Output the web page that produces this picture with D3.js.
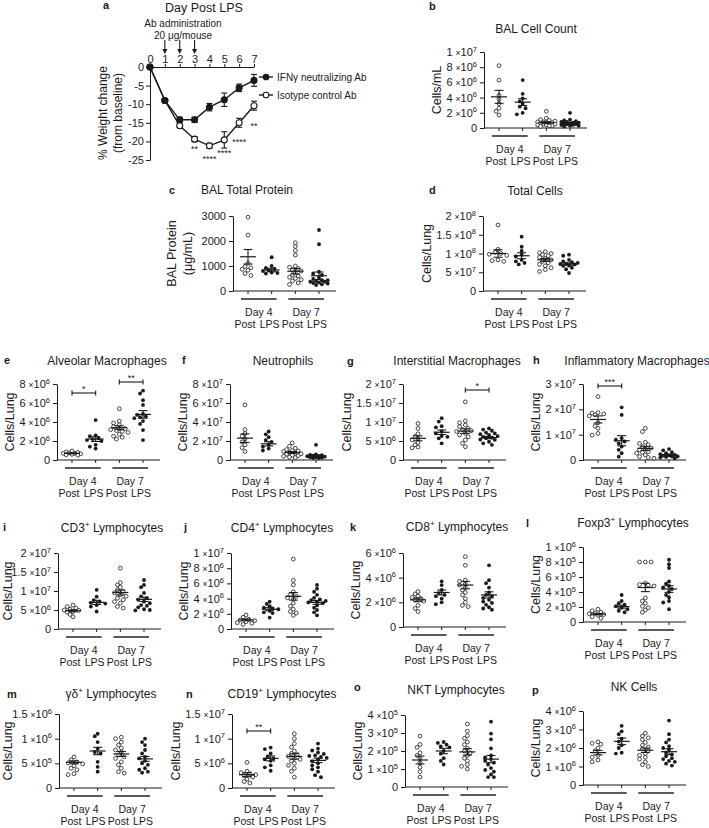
<!DOCTYPE html>
<html><head><meta charset="utf-8">
<script src="https://cdn.jsdelivr.net/npm/d3@7"></script>
<style>
body{margin:0;background:#fff}
svg{display:block}
text{font-family:"Liberation Sans",Arial,sans-serif;fill:#1a1a1a}
</style>
</head><body>
<svg id="c" width="709" height="828"></svg>
<script>
// ---------------- DATA ----------------
// Panel a: weight change
const days = [0,1,2,3,4,5,6,7];
const ifngMean = [0,-9,-14.2,-14.2,-10.8,-8.8,-5.6,-3.6];
const ifngSem  = [0,0.4,0.7,0.7,1.0,1.8,1.0,1.6];
const isoMean  = [0,-9,-15.8,-19.4,-21.2,-19.6,-15.0,-10.4];
const isoSem   = [0,0.4,0.5,0.7,0.7,2.2,1.2,1.2];
const abDays = [1,2,3];
const weightTicks = [0,-5,-10,-15,-20,-25];
const starDays = [3,4,5,6,7];
const starText = ["**","****","****","****","**"];
const legendNames = ["IFN\u03b3 neutralizing Ab","Isotype control Ab"];

// scatter panels: groups [Day4 Post, Day4 LPS, Day7 Post, Day7 LPS]
const groupNames = ["Day 4","Day 7"];
const colNames = ["Post","LPS","Post","LPS"];

const bUnit=1e6, bTicks=[0,2e6,4e6,6e6,8e6,1e7];
const bPts=[[8.2,6.3,4.3,3.8,3.2,2.6,2.2,1.7],[6.3,4.5,3.9,3.5,3.2,2.8,2.6,2.0,1.8],
 [2.2,1.3,1.1,1.0,0.9,0.8,0.8,0.7,0.7,0.6,0.6,0.5,0.5,0.4,0.4,0.3,0.3,0.2],
 [2.0,1.1,1.0,0.9,0.8,0.8,0.7,0.7,0.6,0.6,0.5,0.5,0.4,0.4,0.3,0.3,0.2]];
const bMean=[4.1,3.4,0.7,0.6], bSem=[0.85,0.45,0.13,0.1];

const cUnit=1, cTicks=[0,1000,2000,3000];
const cPts=[[2950,2240,1110,980,930,870,830,700,620],[1350,1000,920,880,830,800,740,720,700],
 [1930,1780,1620,1440,1000,950,900,850,800,750,650,600,550,500,450,400,320,260],
 [2440,1870,770,700,640,530,480,430,430,400,370,370,340,320,300,270,240]];
const cMean=[1370,840,790,610], cSem=[290,70,110,150];

const dUnit=1e7, dTicks=[0,5e7,1e8,1.5e8,2e8];
const dPts=[[17.6,11.1,10.3,10.0,9.8,9.5,8.3,8.1,7.9],[14.5,11.8,10.7,9.7,9.2,8.3,7.9,7.5,7.1],
 [10.5,10.2,10.0,9.7,9.4,9.0,8.7,8.3,7.9,7.5,7.1,6.7,6.2,5.7,5.2],
 [9.7,9.4,8.3,7.9,7.7,7.5,7.3,7.2,7.1,6.8,6.7,6.2,5.8,4.8]];
const dMean=[10.0,9.4,8.3,7.2], dSem=[1.0,0.8,0.4,0.3];

const eUnit=1e6, eTicks=[0,2e6,4e6,6e6,8e6];
const ePts=[[0.95,0.85,0.8,0.75,0.7,0.7,0.65,0.6,0.55,0.5],[4.2,2.6,2.5,2.3,2.2,2.1,2.0,1.6,1.4,1.2],
 [5.4,4.1,3.9,3.7,3.5,3.3,3.3,3.2,3.1,3.0,2.9,2.7,2.5,2.4,2.2],
 [7.3,7.0,6.3,5.8,4.85,4.75,4.6,4.5,4.4,4.1,3.8,3.15,2.1]];
const eMean=[0.7,2.2,3.4,4.8], eSem=[0.05,0.25,0.2,0.4];

const fUnit=1e7, fTicks=[0,2e7,4e7,6e7,8e7];
const fPts=[[5.8,3.2,2.8,2.5,2.2,1.9,1.6,1.3,0.9],[3.0,2.7,2.4,2.1,1.9,1.6,1.4,1.2,1.0],
 [1.8,1.45,1.25,1.1,1.0,0.95,0.9,0.8,0.7,0.65,0.6,0.5,0.45,0.4,0.3,0.25],
 [1.6,0.6,0.55,0.5,0.45,0.4,0.4,0.35,0.3,0.3,0.25,0.2,0.2]];
const fMean=[2.3,1.7,0.8,0.42], fSem=[0.45,0.22,0.1,0.1];

const gUnit=1e6, gTicks=[0,5e6,1e7,1.5e7,2e7];
const gPts=[[9.6,8.3,6.9,6.2,5.6,5.3,4.6,4.0,3.4,3.2],[11.0,10.1,8.9,8.6,7.5,7.0,6.3,6.1,5.7,4.4],
 [15.3,10.3,9.8,9.2,8.8,8.3,8.0,7.7,7.5,7.0,6.6,6.1,5.3,4.4,3.5],
 [8.3,8.0,7.7,7.2,7.0,6.8,6.6,6.3,6.1,5.9,5.7,5.4,5.3,4.8,4.4,4.0]];
const gMean=[5.7,7.3,7.6,5.9], gSem=[0.65,0.6,0.6,0.3];

const hUnit=1e7, hTicks=[0,1e7,2e7,3e7];
const hPts=[[2.5,1.87,1.85,1.82,1.78,1.74,1.47,1.34,1.25,1.05,0.98],[2.08,1.78,0.86,0.8,0.73,0.66,0.53,0.4,0.27,0.13],
 [1.25,1.12,0.7,0.65,0.6,0.53,0.47,0.43,0.4,0.33,0.3,0.27,0.2,0.13,0.1,0.07],
 [0.43,0.38,0.31,0.27,0.23,0.2,0.18,0.17,0.14,0.14,0.12,0.1,0.07]];
const hMean=[1.6,0.76,0.46,0.2], hSem=[0.14,0.2,0.08,0.03];

const iUnit=1e6, iTicks=[0,5e6,1e7,1.5e7,2e7];
const iPts=[[6.3,5.9,5.5,5.2,5.0,4.9,4.6,4.4,3.8,3.2],[10.3,8.5,7.6,7.2,6.9,6.7,6.3,5.9,4.6],
 [16.0,12.2,11.6,11.0,10.3,9.9,9.5,9.0,8.6,8.1,7.7,7.2,6.8,5.9,5.5],
 [12.9,11.6,11.0,9.5,8.6,8.1,7.7,7.2,6.8,6.3,6.1,5.7,5.2,5.0,4.9]];
const iMean=[4.8,7.0,9.6,7.8], iSem=[0.25,0.55,0.65,0.55];

const jUnit=1e6, jTicks=[0,2e6,4e6,6e6,8e6,1e7];
const jPts=[[1.84,1.54,1.28,1.19,1.1,0.97,0.83,0.75,0.6],[3.6,3.3,3.0,2.8,2.7,2.6,2.4,2.2,2.1,1.5],
 [9.2,6.4,5.8,4.9,4.5,4.3,4.1,3.9,3.4,3.0,2.6,2.3,2.1,1.8],
 [5.8,5.3,4.9,4.5,4.1,3.9,3.8,3.7,3.6,3.5,3.4,3.1,2.8,2.5,2.2,1.8]];
const jMean=[1.2,2.6,4.3,3.5], jSem=[0.12,0.2,0.5,0.25];

const kUnit=1e6, kTicks=[0,2e6,4e6,6e6];
const kPts=[[2.87,2.68,2.5,2.4,2.3,2.2,2.1,1.75,1.5,1.25],[3.7,3.4,3.0,2.75,2.6,2.5,2.3,2.0,1.85],
 [5.7,5.0,3.8,3.7,3.5,3.4,3.2,3.0,2.8,2.6,2.3,2.0,1.75,1.65],
 [5.0,3.8,3.55,3.2,2.8,2.6,2.5,2.35,2.2,2.05,1.95,1.8,1.6,1.5,1.4]];
const kMean=[2.2,2.8,3.4,2.6], kSem=[0.15,0.2,0.3,0.25];

const lUnit=1e5, lTicks=[0,2e5,4e5,6e5,8e5,1e6];
const lPts=[[1.7,1.5,1.3,1.2,1.1,1.0,0.9,0.7,0.5],[3.6,2.8,2.5,2.3,2.1,1.9,1.7,1.5,1.3],
 [8.0,8.0,8.0,5.2,5.0,4.9,4.8,3.2,2.8,2.5,2.1,1.9,1.6,1.3],
 [8.3,7.7,7.2,5.4,5.1,4.8,4.6,4.4,4.0,3.6,3.3,2.8,2.6,1.7]];
const lMean=[1.05,2.05,4.6,4.4], lSem=[0.1,0.2,0.55,0.45];

const mUnit=1e5, mTicks=[0,5e5,1e6,1.5e6];
const mPts=[[6.3,5.7,5.3,5.1,4.9,4.5,4.0,3.7,2.9,2.7],[11.0,10.5,9.3,8.0,7.3,7.0,5.3,4.3,3.3],
 [10.3,10.0,9.3,8.7,8.1,7.7,7.3,6.7,6.3,6.0,5.3,4.7,4.0,3.3,3.0],
 [10.0,9.3,8.7,7.7,7.0,6.3,6.0,5.5,5.0,4.7,4.0,3.7,3.3,3.1]];
const mMean=[5.2,7.5,6.9,5.9], mSem=[0.3,0.75,0.5,0.5];

const nUnit=1e6, nTicks=[0,5e6,1e7,1.5e7];
const nPts=[[5.2,3.4,3.1,2.9,2.7,2.5,2.2,1.8,1.3,1.0],[8.2,7.9,7.0,6.4,6.0,5.8,5.5,4.6,4.2,3.5],
 [11.0,10.0,9.0,8.3,7.5,7.0,6.8,6.4,6.0,5.8,5.5,5.0,4.6,4.0,3.4,2.2],
 [9.0,8.0,7.6,7.2,6.9,6.6,6.5,6.3,6.1,5.8,5.4,5.0,4.6,4.2,3.8,3.3,2.6,2.2]];
const nMean=[2.7,6.0,6.4,5.6], nSem=[0.4,0.5,0.55,0.45];

const oUnit=1e5, oTicks=[0,1e5,2e5,3e5,4e5];
const oPts=[[2.83,2.36,2.2,1.9,1.75,1.6,1.35,1.1,0.85,0.55],[2.5,2.45,2.35,2.25,2.2,2.0,1.85,1.6,1.45,1.25],
 [3.5,3.1,2.85,2.7,2.5,2.35,2.15,2.0,1.9,1.75,1.6,1.45,1.25,1.15,1.0],
 [3.63,2.97,2.65,2.15,1.75,1.65,1.55,1.45,1.35,1.25,1.05,0.95,0.85,0.7,0.55,0.55]];
const oMean=[1.5,2.0,1.95,1.55], oSem=[0.22,0.15,0.18,0.2];

const pUnit=1e6, pTicks=[0,1e6,2e6,3e6,4e6];
const pPts=[[2.33,2.25,2.2,2.0,1.85,1.6,1.5,1.35,1.25],[3.2,2.9,2.75,2.5,2.35,2.15,2.0,1.75,1.7],
 [2.8,2.65,2.55,2.45,2.3,2.15,2.05,1.95,1.85,1.7,1.6,1.5,1.4,1.25,1.1,1.0],
 [3.48,2.75,2.45,2.3,2.1,2.0,1.9,1.75,1.65,1.55,1.45,1.4,1.3,1.25,1.15,1.05]];
const pMean=[1.75,2.36,1.88,1.8], pSem=[0.12,0.18,0.12,0.16];

// ---------------- DRAWING ----------------
const svg = d3.select("#c");
const INK = "#1a1a1a";
const cols = [0,1,2,3];

function supTitle(sel, parts){
  sel.append("tspan").text(parts[0]);
  if (parts.length>1){
    sel.append("tspan").attr("font-size",8).attr("dy",-5).text(parts[1]);
    sel.append("tspan").attr("dy",5).text(parts[2]);
  }
}

function sciLabel(t, v, plain){
  t.text(null);
  if (v===0 || plain){ t.append("tspan").text(String(v)); return; }
  const e = Math.floor(Math.log10(v)+1e-9);
  const m = +(v/Math.pow(10,e)).toFixed(2);
  t.append("tspan").text(m+" ");
  t.append("tspan").attr("font-size",8.5).text("\u00d7");
  t.append("tspan").text("10");
  t.append("tspan").attr("font-size",7.5).attr("dy",-4.5).text(e);
}

// compact beeswarm: spread points of similar value sideways, within a limited width
function swarm(vals, y){
  const items = vals.map(v=>({v, py:y(v)})).sort((a,b)=>a.py-b.py);
  const placed=[]; const step=2.9, dmin=3.6, maxOff=11;
  for (const p of items){
    let best=null, bestD=-1;
    for (let k=0;k<40;k++){
      const off = k===0?0:(k%2?-1:1)*Math.ceil(k/2)*step;
      if (Math.abs(off)>maxOff) break;
      const dd = placed.length? d3.min(placed,q=>Math.hypot(q.off-off,q.py-p.py)) : 99;
      if (dd>=dmin){best=off;bestD=dd;break;}
      if (dd>bestD){bestD=dd;best=off;}
    }
    p.off=best; placed.push(p);
  }
  return placed;
}

function drawPanel(L, pts, mean, sem, ticks, unit){
  const g = svg.append("g");
  const y = d3.scaleLinear().domain([0,d3.max(ticks)]).range([L.yZero,L.yTop]);
  const x = d3.scalePoint().domain(cols).range([L.ax+15,L.ax+86]);
  const ya = g.append("g").attr("transform",`translate(${L.ax},0)`)
    .call(d3.axisLeft(y).tickValues(ticks).tickSize(4).tickSizeOuter(0).tickPadding(3));
  ya.attr("font-family",null).attr("font-size",11);
  ya.select(".domain").attr("stroke",INK);
  ya.selectAll(".tick line").attr("stroke",INK);
  ya.selectAll(".tick text").each(function(d){ sciLabel(d3.select(this), d, L.plain); }).attr("fill",INK);
  g.append("line").attr("x1",L.ax).attr("x2",L.ax+103).attr("y1",L.yZero).attr("y2",L.yZero).attr("stroke",INK);
  g.selectAll(".xt").data(cols).join("line").attr("x1",d=>x(d)).attr("x2",d=>x(d))
    .attr("y1",L.yZero).attr("y2",L.yZero+3).attr("stroke",INK);
  [0,1].forEach(gi=>{
    const x1=x(gi*2)-7, x2=x(gi*2+1)+5;
    g.append("line").attr("x1",x1).attr("x2",x2).attr("y1",L.yZero+8).attr("y2",L.yZero+8)
      .attr("stroke","#222").attr("stroke-width",1.4);
    g.append("text").attr("x",(x1+x2)/2).attr("y",L.yZero+25).attr("text-anchor","middle")
      .attr("font-size",10.5).text(groupNames[gi]);
  });
  cols.forEach(ci=>{
    g.append("text").attr("x",x(ci)+(ci%2?-2:-3)).attr("y",L.yZero+36.5).attr("text-anchor","middle")
      .attr("font-size",10.5).text(colNames[ci]);
  });
  const r=1.9;
  cols.forEach(ci=>{
    const sw = swarm(pts[ci].map(v=>v*unit), y);
    g.selectAll(null).data(sw).join("circle")
      .attr("cx",d=>x(ci)+d.off).attr("cy",d=>d.py).attr("r",r)
      .attr("fill",ci%2? INK:"#fff").attr("stroke",INK).attr("stroke-width",ci%2?0:0.8);
    const mv=mean[ci]*unit, sv=sem[ci]*unit, cx=x(ci);
    g.append("line").attr("x1",cx-8).attr("x2",cx+8).attr("y1",y(mv)).attr("y2",y(mv)).attr("stroke",INK).attr("stroke-width",1.2);
    g.append("line").attr("x1",cx).attr("x2",cx).attr("y1",y(mv-sv)).attr("y2",y(mv+sv)).attr("stroke",INK).attr("stroke-width",1.1);
    [mv-sv,mv+sv].forEach(v=>g.append("line").attr("x1",cx-4.5).attr("x2",cx+4.5).attr("y1",y(v)).attr("y2",y(v)).attr("stroke",INK).attr("stroke-width",1.1));
  });
  (L.sig||[]).forEach(s=>{
    const x1=x(s[0]), x2=x(s[1]), yy=s[3];
    g.append("line").attr("x1",x1).attr("x2",x2).attr("y1",yy).attr("y2",yy).attr("stroke",INK).attr("stroke-width",1.1);
    [x1,x2].forEach(xx=>g.append("line").attr("x1",xx).attr("x2",xx).attr("y1",yy-2.5).attr("y2",yy+2.5).attr("stroke",INK).attr("stroke-width",1.1));
    g.append("text").attr("x",(x1+x2)/2).attr("y",yy-1).attr("text-anchor","middle").attr("font-size",9).text(s[2]);
  });
  const t = g.append("text").attr("x",L.tx).attr("y",L.ty+4).attr("text-anchor","middle").attr("font-size",12);
  supTitle(t, L.title);
  g.append("text").attr("x",L.lx).attr("y",L.ly+4).attr("font-size",11).attr("font-weight","bold").text(L.label);
  const bb = ya.node().getBBox();
  const left = L.ax + bb.x;
  const cy = (L.yTop+L.yZero)/2;
  const lines = L.ylab;
  lines.forEach((s,i)=>{
    const cx = Math.max(8, left - (lines.length===1? 9 : (lines.length-1-i)*16+14));
    g.append("text").attr("transform",`translate(${cx},${cy}) rotate(-90)`)
      .attr("text-anchor","middle").attr("dominant-baseline","central").attr("font-size",12.5).text(s);
  });
}

const CL = ["Cells/Lung"];
drawPanel({ax:484,yTop:52,yZero:128,title:["BAL Cell Count"],tx:536,ty:29,label:"b",lx:429,ly:6,ylab:["Cells/mL"]}, bPts,bMean,bSem,bTicks,bUnit);
drawPanel({ax:233,yTop:216,yZero:291,title:["BAL Total Protein"],tx:247,ty:190,label:"c",lx:169,ly:190,ylab:["BAL  Protein","(\u03bcg/mL)"],plain:true}, cPts,cMean,cSem,cTicks,cUnit);
drawPanel({ax:483,yTop:216,yZero:291,title:["Total Cells"],tx:535,ty:191,label:"d",lx:429,ly:190,ylab:CL}, dPts,dMean,dSem,dTicks,dUnit);
drawPanel({ax:57,yTop:384,yZero:460,title:["Alveolar Macrophages"],tx:107,ty:361,label:"e",lx:4,ly:360,ylab:CL,sig:[[0,1,"*",393],[2,3,"**",382]]}, ePts,eMean,eSem,eTicks,eUnit);
drawPanel({ax:230,yTop:384,yZero:460,title:["Neutrophils"],tx:283,ty:361,label:"f",lx:182,ly:360,ylab:CL}, fPts,fMean,fSem,fTicks,fUnit);
drawPanel({ax:403,yTop:384,yZero:460,title:["Interstitial Macrophages"],tx:457,ty:361,label:"g",lx:347,ly:361,ylab:CL,sig:[[2,3,"*",390]]}, gPts,gMean,gSem,gTicks,gUnit);
drawPanel({ax:583,yTop:384,yZero:460,title:["Inflammatory Macrophages"],tx:637,ty:361,label:"h",lx:533,ly:360,ylab:CL,sig:[[0,1,"***",386]]}, hPts,hMean,hSem,hTicks,hUnit);
drawPanel({ax:58,yTop:553,yZero:629,title:["CD3","+"," Lymphocytes"],tx:112,ty:528,label:"i",lx:3,ly:527,ylab:CL}, iPts,iMean,iSem,iTicks,iUnit);
drawPanel({ax:231,yTop:553,yZero:629,title:["CD4","+"," Lymphocytes"],tx:282,ty:528,label:"j",lx:184,ly:527,ylab:CL}, jPts,jMean,jSem,jTicks,jUnit);
drawPanel({ax:403,yTop:553,yZero:627,title:["CD8","+"," Lymphocytes"],tx:457,ty:527,label:"k",lx:350,ly:527,ylab:CL}, kPts,kMean,kSem,kTicks,kUnit);
drawPanel({ax:583,yTop:547,yZero:622,title:["Foxp3","+"," Lymphocytes"],tx:633,ty:523,label:"l",lx:526,ly:523,ylab:CL}, lPts,lMean,lSem,lTicks,lUnit);
drawPanel({ax:59,yTop:714,yZero:788,title:["\u03b3\u03b4","+"," Lymphocytes"],tx:111,ty:694,label:"m",lx:7,ly:694,ylab:CL}, mPts,mMean,mSem,mTicks,mUnit);
drawPanel({ax:232,yTop:714,yZero:788,title:["CD19","+"," Lymphocytes"],tx:282,ty:694,label:"n",lx:186,ly:694,ylab:CL,sig:[[0,1,"**",731]]}, nPts,nMean,nSem,nTicks,nUnit);
drawPanel({ax:405,yTop:715,yZero:787,title:["NKT Lymphocytes"],tx:456,ty:690,label:"o",lx:354,ly:687,ylab:CL}, oPts,oMean,oSem,oTicks,oUnit);
drawPanel({ax:583,yTop:711,yZero:785,title:["NK Cells"],tx:634,ty:687,label:"p",lx:532,ly:690,ylab:CL}, pPts,pMean,pSem,pTicks,pUnit);

// ---------------- Panel a ----------------
(function(){
  const g = svg.append("g");
  const x = d3.scaleLinear().domain([0,7]).range([150,254]);
  const y = d3.scaleLinear().domain([-25,0]).range([160,67]);
  const xa = g.append("g").attr("transform","translate(0,67)")
    .call(d3.axisTop(x).tickValues(days).tickSize(3).tickSizeOuter(0).tickPadding(1).tickFormat(d3.format("d")));
  xa.attr("font-family",null).attr("font-size",11);
  xa.selectAll("path,line").attr("stroke",INK);
  xa.selectAll("text").attr("fill",INK);
  const ya = g.append("g").attr("transform","translate(150,0)")
    .call(d3.axisLeft(y).tickValues(weightTicks).tickSize(4).tickSizeOuter(0).tickPadding(2).tickFormat(d=>String(d)));
  ya.attr("font-family",null).attr("font-size",11);
  ya.selectAll("path,line").attr("stroke",INK);
  ya.selectAll("text").attr("fill",INK);

  function series(mean, sem, filled){
    g.append("path").datum(days).attr("fill","none").attr("stroke",INK).attr("stroke-width",1.4)
      .attr("d",d3.line().x(d=>x(d)).y(d=>y(mean[d])));
    days.forEach(d=>{
      if (sem[d]>0){
        const y1=y(mean[d]-sem[d]), y2=y(mean[d]+sem[d]);
        g.append("line").attr("x1",x(d)).attr("x2",x(d)).attr("y1",y1).attr("y2",y2).attr("stroke",INK).attr("stroke-width",1.1);
        [y1,y2].forEach(yy=>g.append("line").attr("x1",x(d)-3).attr("x2",x(d)+3).attr("y1",yy).attr("y2",yy).attr("stroke",INK).attr("stroke-width",1.1));
      }
      g.append("circle").attr("cx",x(d)).attr("cy",y(mean[d])).attr("r",3)
        .attr("fill",filled?INK:"#fff").attr("stroke",INK).attr("stroke-width",1.1);
    });
  }
  series(isoMean, isoSem, false);
  series(ifngMean, ifngSem, true);

  const starOff=[10,13,13,19,20];
  starDays.forEach((d,i)=>{
    g.append("text").attr("x",x(d)).attr("y",y(isoMean[d])+starOff[i]+3).attr("text-anchor","middle")
      .attr("font-size",9).text(starText[i]);
  });
  abDays.forEach(d=>{
    g.append("line").attr("x1",x(d)).attr("x2",x(d)).attr("y1",40).attr("y2",50).attr("stroke",INK).attr("stroke-width",1.1);
    g.append("path").attr("d",`M${x(d)-2.5},49L${x(d)+2.5},49L${x(d)},54Z`).attr("fill",INK);
  });
  g.append("text").attr("x",204).attr("y",12).attr("text-anchor","middle").attr("font-size",12.5).text("Day Post LPS");
  g.append("text").attr("x",183).attr("y",27).attr("text-anchor","middle").attr("font-size",10).text("Ab administration");
  g.append("text").attr("x",183).attr("y",39).attr("text-anchor","middle").attr("font-size",10).text("20 \u03bcg/mouse");
  g.append("text").attr("x",103).attr("y",9).attr("font-size",11).attr("font-weight","bold").text("a");
  [["% Weight change",103],["(from baseline)",118]].forEach(s=>{
    g.append("text").attr("transform",`translate(${s[1]},113) rotate(-90)`).attr("text-anchor","middle")
      .attr("dominant-baseline","central").attr("font-size",12).text(s[0]);
  });
  [[77,true],[95,false]].forEach((l,i)=>{
    g.append("line").attr("x1",259).attr("x2",273).attr("y1",l[0]).attr("y2",l[0]).attr("stroke",INK).attr("stroke-width",1.4);
    g.append("circle").attr("cx",266).attr("cy",l[0]).attr("r",2.8).attr("fill",l[1]?INK:"#fff").attr("stroke",INK).attr("stroke-width",1.1);
    g.append("text").attr("x",277).attr("y",l[0]+4).attr("font-size",10).text(legendNames[i]);
  });
})();
</script>
</body></html>
